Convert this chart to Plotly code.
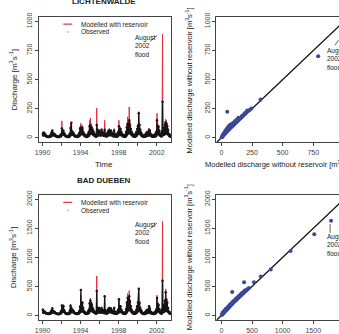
import plotly.graph_objects as go

W, H = 339, 334

# ---------------- data ----------------
# monthly peak discharge, Jan 1990 .. Jun 2003
lich_mod = [40, 50, 45, 30, 20, 15, 12, 12, 15, 20, 30, 55,
            75, 45, 40, 35, 25, 18, 15, 12, 12, 15, 25, 35,
            145, 60, 70, 45, 30, 20, 15, 12, 15, 25, 40, 120,
            90, 60, 50, 40, 25, 20, 18, 15, 20, 30, 45, 110,
            125, 80, 110, 60, 40, 30, 20, 15, 25, 40, 60, 150,
            170, 120, 100, 80, 60, 40, 30, 20, 255, 80, 60, 70,
            60, 50, 80, 60, 50, 40, 150, 40, 30, 40, 60, 70,
            80, 60, 70, 50, 40, 30, 80, 40, 25, 25, 40, 60,
            150, 70, 90, 60, 40, 30, 25, 20, 30, 60, 120, 180,
            150, 265, 140, 90, 60, 40, 30, 25, 25, 40, 60, 90,
            120, 225, 130, 80, 50, 35, 25, 20, 20, 30, 40, 50,
            60, 50, 80, 70, 40, 30, 25, 20, 25, 30, 40, 60,
            210, 120, 110, 70, 40, 30, 60, 890, 80, 100, 140, 160,
            150, 120, 80, 40, 30, 25]
lich_obs = [35, 45, 40, 28, 18, 14, 10, 10, 14, 18, 28, 45,
            60, 40, 35, 30, 22, 16, 13, 10, 10, 14, 22, 30,
            80, 55, 60, 40, 26, 18, 13, 10, 13, 22, 35, 85,
            130, 55, 45, 35, 22, 18, 15, 13, 18, 26, 40, 80,
            90, 70, 85, 50, 35, 26, 18, 13, 22, 35, 50, 100,
            110, 90, 80, 65, 50, 35, 26, 18, 110, 70, 50, 60,
            50, 45, 70, 50, 45, 35, 70, 35, 26, 35, 50, 60,
            65, 50, 60, 45, 35, 26, 60, 35, 22, 22, 35, 50,
            100, 60, 75, 50, 35, 26, 22, 18, 26, 50, 90, 120,
            120, 150, 110, 75, 50, 35, 26, 22, 22, 35, 50, 75,
            100, 210, 110, 70, 45, 30, 22, 18, 18, 26, 35, 45,
            50, 45, 70, 60, 35, 26, 22, 18, 22, 26, 35, 50,
            150, 100, 95, 60, 35, 26, 50, 310, 70, 85, 110, 130,
            120, 100, 70, 35, 26, 22]
# monthly low (base) flow, Jan 1990 .. Jun 2003
lich_base = [20, 22, 22, 18, 12, 10, 8, 8, 9, 10, 14, 20,
             25, 22, 20, 18, 14, 10, 8, 7, 7, 9, 12, 18,
             30, 28, 28, 22, 15, 11, 9, 7, 8, 10, 15, 25,
             30, 26, 24, 20, 14, 11, 9, 8, 10, 13, 18, 28,
             35, 30, 32, 25, 18, 13, 10, 8, 10, 15, 20, 35,
             40, 35, 32, 28, 22, 16, 12, 10, 20, 22, 20, 25,
             22, 20, 25, 24, 20, 15, 20, 14, 12, 15, 20, 25,
             25, 22, 24, 20, 16, 12, 14, 12, 10, 10, 14, 20,
             35, 25, 28, 22, 16, 12, 10, 9, 10, 18, 28, 40,
             40, 50, 40, 30, 22, 15, 12, 10, 10, 14, 20, 28,
             35, 45, 38, 26, 18, 13, 10, 9, 9, 11, 14, 18,
             20, 18, 26, 24, 15, 12, 10, 9, 10, 11, 14, 20,
             40, 32, 30, 22, 15, 12, 15, 40, 25, 28, 35, 40,
             38, 32, 24, 15, 12, 10]
dueb_mod = [120, 90, 80, 60, 45, 40, 35, 35, 40, 50, 70, 100,
            150, 90, 80, 70, 50, 40, 35, 30, 30, 40, 60, 90,
            200, 120, 190, 100, 60, 45, 40, 35, 40, 60, 90, 200,
            150, 110, 100, 80, 55, 45, 40, 35, 45, 60, 90, 180,
            360, 200, 250, 150, 90, 60, 50, 40, 55, 80, 120, 250,
            300, 240, 200, 150, 100, 80, 60, 50, 680, 150, 120, 150,
            120, 100, 150, 120, 100, 80, 300, 100, 70, 80, 110, 140,
            150, 120, 140, 100, 80, 60, 150, 80, 50, 50, 80, 120,
            300, 140, 180, 120, 80, 60, 50, 45, 60, 120, 250, 380,
            300, 430, 280, 180, 120, 80, 60, 50, 50, 80, 120, 180,
            250, 470, 250, 150, 100, 70, 50, 45, 45, 60, 80, 100,
            120, 100, 180, 140, 80, 60, 50, 45, 50, 60, 80, 120,
            350, 220, 200, 130, 80, 60, 120, 1620, 150, 200, 280, 460,
            300, 250, 150, 80, 60, 50]
dueb_obs = [100, 80, 70, 55, 40, 35, 30, 30, 35, 45, 60, 85,
            120, 80, 70, 60, 45, 35, 30, 28, 28, 35, 50, 80,
            170, 110, 160, 90, 55, 40, 35, 30, 35, 50, 80, 170,
            130, 100, 90, 70, 50, 40, 35, 30, 40, 50, 80, 150,
            440, 180, 220, 130, 80, 55, 45, 35, 50, 70, 100, 210,
            260, 210, 180, 130, 90, 70, 55, 45, 420, 130, 100, 130,
            100, 90, 130, 100, 90, 70, 330, 90, 60, 70, 95, 120,
            130, 100, 120, 90, 70, 55, 130, 70, 45, 45, 70, 100,
            280, 120, 160, 100, 70, 55, 45, 40, 55, 100, 220, 300,
            260, 330, 240, 160, 100, 70, 55, 45, 45, 70, 100, 160,
            220, 460, 220, 130, 90, 60, 45, 40, 40, 55, 70, 90,
            100, 90, 160, 120, 70, 55, 45, 40, 45, 55, 70, 100,
            300, 200, 180, 110, 70, 55, 100, 600, 130, 180, 250, 400,
            270, 220, 130, 70, 55, 45]
dueb_base = [50, 55, 55, 45, 35, 30, 28, 28, 30, 32, 40, 50,
             60, 55, 50, 45, 38, 30, 27, 25, 25, 28, 35, 45,
             70, 65, 65, 55, 40, 32, 28, 25, 27, 32, 40, 60,
             70, 62, 58, 50, 38, 32, 28, 26, 30, 35, 45, 65,
             80, 70, 75, 60, 45, 35, 30, 27, 30, 40, 50, 80,
             90, 80, 75, 65, 55, 42, 35, 30, 50, 55, 50, 60,
             55, 50, 60, 58, 50, 40, 50, 38, 33, 40, 50, 60,
             60, 55, 58, 50, 42, 35, 38, 33, 30, 30, 38, 50,
             80, 60, 65, 55, 42, 33, 30, 28, 30, 45, 65, 90,
             90, 110, 90, 70, 55, 40, 33, 30, 30, 38, 50, 65,
             80, 100, 85, 60, 45, 35, 30, 28, 28, 32, 38, 45,
             50, 45, 60, 58, 40, 33, 30, 28, 30, 32, 38, 50,
             90, 75, 70, 55, 40, 33, 40, 90, 60, 65, 80, 90,
             85, 75, 58, 40, 33, 30]
start_year = 1990

# scatter: modelled discharge without reservoir (x) vs (y)
lich_sx = [3, 6, 9, 12, 15, 18, 22, 26, 30, 34, 38, 42, 47, 52, 57, 62, 68, 74, 80, 86,
           92, 98, 105, 112, 120, 128, 136, 145, 155, 165, 175, 185, 195, 205, 215, 230, 245,
           25, 35, 45, 55, 65, 75, 85, 95, 110, 125, 140,
           10, 18, 28, 40, 52, 64, 78, 90, 102, 115, 130, 150, 170, 190, 210,
           48, 320, 790]
lich_sy = [4, 8, 12, 15, 20, 24, 28, 33, 38, 42, 47, 52, 58, 63, 68, 74, 80, 86, 92, 98,
           104, 110, 118, 125, 133, 140, 150, 158, 168, 178, 188, 198, 208, 218, 228, 240, 252,
           45, 62, 78, 92, 105, 112, 118, 125, 142, 158, 172,
           25, 36, 50, 66, 80, 95, 105, 115, 130, 140, 152, 168, 190, 210, 235,
           225, 330, 700]
dueb_sx = [5, 12, 20, 28, 36, 45, 55, 65, 75, 85, 95, 105, 115, 125, 135, 145, 155, 165, 175, 185,
           195, 210, 225, 240, 255, 270, 285, 300, 315, 330, 350, 370, 390, 410, 430, 450,
           60, 80, 100, 120, 140, 160, 180, 200, 230, 260, 290, 320,
           20, 40, 70, 110, 150, 190, 240, 280, 340, 380,
           177, 371, 532, 645, 806, 1130, 1516, 1790]
dueb_sy = [8, 16, 25, 34, 44, 54, 66, 77, 88, 100, 110, 122, 134, 145, 156, 168, 180, 190, 202, 212,
           224, 240, 256, 272, 288, 304, 318, 334, 350, 365, 385, 404, 422, 440, 455, 472,
           90, 115, 140, 160, 185, 205, 230, 250, 280, 310, 340, 370,
           50, 75, 110, 150, 195, 235, 290, 325, 390, 430,
           403, 571, 571, 672, 790, 1110, 1395, 1630]

year_ticks = [1990, 1992, 1994, 1996, 1998, 2000, 2002]
year_labels = ["1990", "", "1994", "", "1998", "", "2002"]
top_ticks = [0, 250, 500, 750, 1000]
bot_ticks = [0, 500, 1000, 1500, 2000]

# ---------------- helpers ----------------
RED = "#e0303a"
BLUE = "#3a479a"
FONT = "Liberation Sans"


def px(x):
    return x / W


def py(y):
    return 1 - y / H


def series(peaks, base):
    """interleave each month's peak and base flow on a decimal-year time axis"""
    t, v = [], []
    for i, (p, b) in enumerate(zip(peaks, base)):
        t += [start_year + (i + 0.3) / 12, start_year + (i + 0.75) / 12]
        v += [p, b]
    return t, v


lt, lm = series(lich_mod, lich_base)
_, lo = series(lich_obs, lich_base)
dt, dm = series(dueb_mod, dueb_base)
_, do = series(dueb_obs, dueb_base)

fig = go.Figure()
fig.add_trace(go.Scatter(x=lt, y=lm, mode="lines", line=dict(color=RED, width=1),
                         xaxis="x", yaxis="y", showlegend=False))
fig.add_trace(go.Scatter(x=lt, y=lo, mode="lines+markers", line=dict(color="#151515", width=1.3),
                         marker=dict(color="#151515", size=2.5), xaxis="x", yaxis="y", showlegend=False))
fig.add_trace(go.Scatter(x=[-40, 1040], y=[-40, 1040], mode="lines", line=dict(color="#111", width=1.3),
                         xaxis="x2", yaxis="y2", showlegend=False))
fig.add_trace(go.Scatter(x=lich_sx, y=lich_sy, mode="markers", marker=dict(color=BLUE, size=4),
                         xaxis="x2", yaxis="y2", showlegend=False))
fig.add_trace(go.Scatter(x=dt, y=dm, mode="lines", line=dict(color=RED, width=1),
                         xaxis="x3", yaxis="y3", showlegend=False))
fig.add_trace(go.Scatter(x=dt, y=do, mode="lines+markers", line=dict(color="#151515", width=1.3),
                         marker=dict(color="#151515", size=2.5), xaxis="x3", yaxis="y3", showlegend=False))
fig.add_trace(go.Scatter(x=[-80, 2080], y=[-80, 2080], mode="lines", line=dict(color="#111", width=1.3),
                         xaxis="x4", yaxis="y4", showlegend=False))
fig.add_trace(go.Scatter(x=dueb_sx, y=dueb_sy, mode="markers", marker=dict(color=BLUE, size=4),
                         xaxis="x4", yaxis="y4", showlegend=False))

ax_common = dict(showgrid=False, zeroline=False, showline=True, linecolor="#444", linewidth=1,
                 ticks="outside", ticklen=3, tickcolor="#444", tickwidth=1,
                 tickfont=dict(size=7, color="#444", family=FONT))

top_dom = [py(141), py(13)]
bot_dom = [py(322), py(194)]
left_dom = [px(35), px(169)]
right_dom = [px(215), 1.0]

fig.update_layout(
    width=W, height=H, margin=dict(l=0, r=0, t=0, b=0),
    paper_bgcolor="white", plot_bgcolor="white", font=dict(family=FONT, color="#222"),
    xaxis=dict(domain=left_dom, range=[1989.58, 2003.5], tickvals=year_ticks, ticktext=year_labels,
               anchor="y", mirror=True, **ax_common),
    yaxis=dict(domain=top_dom, range=[-40, 1040], tickvals=top_ticks, tickangle=-90,
               anchor="x", mirror=True, **ax_common),
    xaxis2=dict(domain=right_dom, range=[-40, 960], tickvals=top_ticks,
                anchor="y2", mirror=True, **ax_common),
    yaxis2=dict(domain=top_dom, range=[-40, 1040], tickvals=top_ticks, tickangle=-90,
                anchor="x2", mirror=False, **ax_common),
    xaxis3=dict(domain=left_dom, range=[1989.58, 2003.5], tickvals=year_ticks, ticktext=year_labels,
                anchor="y3", mirror=True, **ax_common),
    yaxis3=dict(domain=bot_dom, range=[-80, 2080], tickvals=bot_ticks, tickangle=-90,
                anchor="x3", mirror=True, **ax_common),
    xaxis4=dict(domain=right_dom, range=[-80, 1920], tickvals=bot_ticks,
                anchor="y4", mirror=True, **ax_common),
    yaxis4=dict(domain=bot_dom, range=[-80, 2080], tickvals=bot_ticks, tickangle=-90,
                anchor="x4", mirror=False, **ax_common),
)

ann = []
shapes = []


def text(x, y, t, size=7.5, bold=False, angle=0, xanchor="center", yanchor="middle", color="#222", align="center"):
    if bold:
        t = "<b>" + t + "</b>"
    ann.append(dict(x=px(x), y=py(y), xref="paper", yref="paper", text=t, showarrow=False,
                    font=dict(size=size, color=color, family=FONT), textangle=angle,
                    xanchor=xanchor, yanchor=yanchor, align=align, borderpad=0))


def seg(x0, y0, x1, y1, color="#333", width=0.8):
    shapes.append(dict(type="line", xref="paper", yref="paper", x0=px(x0), y0=py(y0),
                       x1=px(x1), y1=py(y1), line=dict(color=color, width=width)))


unit = "[m<sup>3</sup>s<sup>-1</sup>]"
# titles
text(101, 3.5, "LICHTENWALDE", size=8, bold=True, yanchor="bottom")
text(101, 180, "BAD DUEBEN", size=8, bold=True)
text(101, 163, "Time", size=8)
text(9, 77, "Discharge " + unit, size=8, angle=-90)
text(9, 258, "Discharge " + unit, size=8, angle=-90)
text(187, 78, "Modelled discharge without reservoir " + unit, size=7.5, angle=-90)
text(187, 258, "Modelled discharge without reservoir " + unit, size=7.5, angle=-90)
text(277, 163, "Modelled discharge without reservoir " + unit, size=7.5)

# legends
for ly in (20.5, 202):
    seg(60, ly, 69, ly, color=RED, width=1.2)
    text(77, ly, "Modelled with reservoir", size=6.5, xanchor="left")
    shapes.append(dict(type="circle", xref="paper", yref="paper", x0=px(64.2), x1=px(65.8),
                       y0=py(ly + 8.8), y1=py(ly + 7.2), fillcolor="#999", line=dict(width=0)))
    text(77, ly + 7.8, "Observed", size=6.5, xanchor="left")

# flood annotations
flood = "August<br>2002<br>flood"
text(132, 30, flood, size=6.5, xanchor="left", yanchor="top", align="left")
seg(148, 38, 155, 32)
text(132, 220, flood, size=6.5, xanchor="left", yanchor="top", align="left")
seg(148, 229, 155, 223)
text(326, 43, flood, size=6.5, xanchor="left", yanchor="top", align="left")
seg(335, 42, 338.5, 37)
text(326, 232, flood, size=6.5, xanchor="left", yanchor="top", align="left")
seg(330, 224, 330, 233)

fig.update_layout(annotations=ann, shapes=shapes)
fig.write_html("out.html")
